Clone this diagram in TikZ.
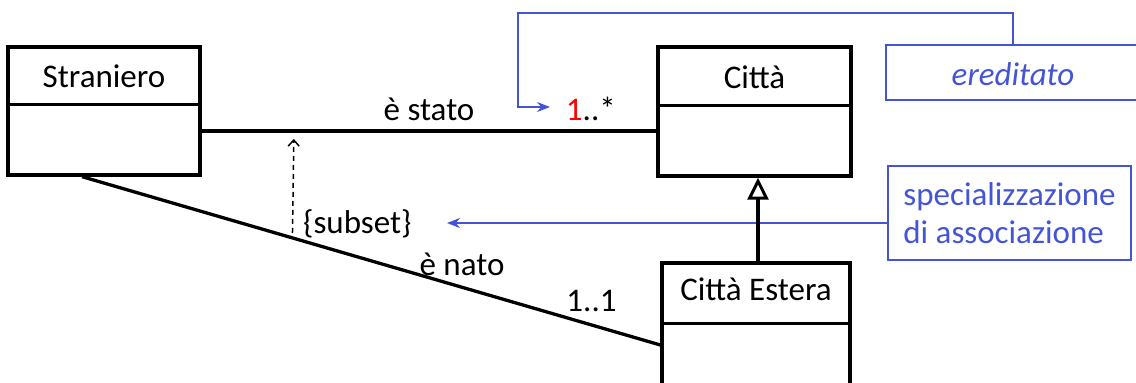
\documentclass[tikz,border=0pt]{standalone}
\usepackage{fontspec}
\setmainfont{Carlito}
\usepackage{tikz}
\usetikzlibrary{arrows.meta,positioning}
\definecolor{notablu}{RGB}{68,84,214}

\begin{document}
\begin{tikzpicture}[x=1pt,y=-1pt,
		every node/.style={font=\fontsize{33}{38}\selectfont, inner sep=0pt},
		classe/.style={draw, line width=3.3pt},
		assoc/.style={line width=3.3pt},
		nota/.style={draw=notablu, line width=1.6pt, text=notablu},
		freccianota/.style={notablu, line width=1.6pt, -{Stealth[length=13pt,width=10pt]}}]
			\useasboundingbox (0,0) rectangle (1136,383);
			\clip (0,0) rectangle (1136,383);
			% classi
			\node[classe, minimum width=192pt, minimum height=128pt] (stran) at (104,111) {};
			\node[classe, minimum width=193pt, minimum height=129pt] (citta) at (754.5,111.5) {};
			\node[classe, minimum width=188pt, minimum height=140pt] (estera) at (756,333) {};
			\draw[assoc] ([yshift=-59pt]stran.north west) -- ([yshift=-59pt]stran.north east);
			\draw[assoc] ([yshift=-60pt]citta.north west) -- ([yshift=-60pt]citta.north east);
			\draw[assoc] ([yshift=-62pt]estera.north west) -- ([yshift=-62pt]estera.north east);
			\node[anchor=base] (nstran) at ([yshift=-42pt]stran.north) {Straniero};
			\node[anchor=base] (ncitta) at ([yshift=-43pt]citta.north) {Città};
			\node[anchor=base] (nestera) at ([yshift=-39pt]estera.north) {Città Estera};
			% note
			\node[nota, minimum width=254pt, minimum height=55pt, text height=40pt, text depth=15pt,
				font=\fontsize{33}{38}\selectfont\itshape] (ered) at (1013,72.5) {ereditato};
			\node[nota, minimum width=243pt, minimum height=94pt, align=left]
				(spec) at (1009.5,213) {specializzazione\\di associazione};
			% associazioni
			\draw[assoc] ([yshift=-20pt]stran.east)
				-- node[above=9pt] (lstato) {è stato}
				node[pos=0.856, above=9pt] (molt) {\textcolor{red}{1}..*}
				coordinate[pos=0.203] (subtesta)
				([yshift=-19.5pt]citta.west);
			\draw[assoc] ([xshift=-22pt]stran.south)
				-- node[pos=0.657, anchor=base, yshift=11.7pt] (lnato) {è nato}
				node[pos=0.881, anchor=base, yshift=13.8pt] (molt2) {1..1}
				coordinate[pos=0.3638] (subpiede)
				([yshift=-12pt]estera.west);
			\draw[line width=1.5pt, dash pattern=on 5pt off 4pt, -{Straight Barb[length=6pt,width=11pt]},
				shorten <=5pt, shorten >=8pt] (subpiede) -- (subtesta);
			\node[anchor=base west] (subset) at (303,233) {\{subset\}};
			% frecce delle note
			\coordinate (giro) at (518,13);
			\coordinate (puntamolt) at (550,107);
			\coordinate (puntasub) at (447,223);
			\draw[freccianota] (ered.north) |- (giro) |- (puntamolt);
			\draw[freccianota] ([yshift=-10pt]spec.west) -- (puntasub);
			% generalizzazione
			\draw[line width=3.3pt, -{Triangle[open, length=22pt, width=21pt, line width=3pt]}]
				([xshift=2pt]estera.north) -- ([xshift=2pt]estera.north |- citta.south);
	\end{tikzpicture}
\end{document}
